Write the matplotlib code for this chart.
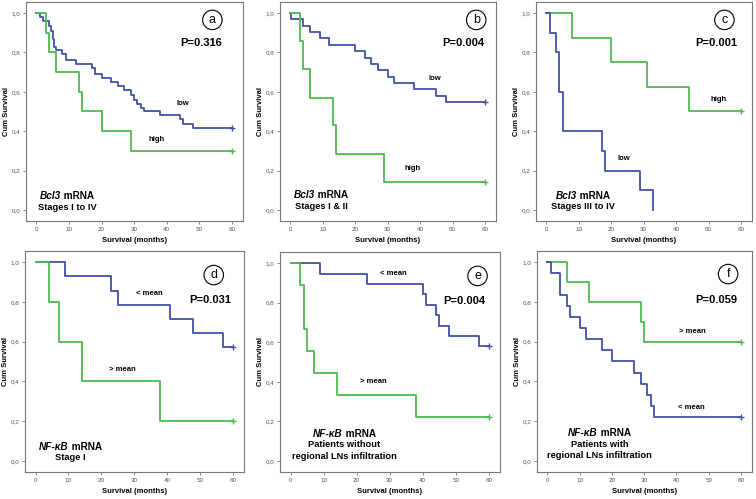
import matplotlib
matplotlib.use("Agg")
from matplotlib import pyplot as plt
from matplotlib.ticker import FuncFormatter

plt.rcParams['font.family'] = ['Liberation Sans', 'DejaVu Sans']

BLUE = "#4252a6"
GREEN = "#4dbb4f"

# survival curves: (event times, survival after each step)
a_low_t = [0, 1, 2, 4, 4.5, 5, 5.5, 6, 8, 9, 12, 17, 18, 20, 23, 25, 27, 29, 30, 31, 32, 33, 38, 44, 45, 48, 60]
a_low_s = [1.0, 0.98, 0.96, 0.935, 0.91, 0.87, 0.83, 0.81, 0.79, 0.76, 0.74, 0.72, 0.69, 0.67, 0.65, 0.63, 0.61, 0.585, 0.56, 0.54, 0.52, 0.50, 0.48, 0.46, 0.435, 0.415, 0.415]
a_high_t = [0, 3, 4, 6, 13, 14, 20, 29, 60]
a_high_s = [1.0, 0.9, 0.8, 0.7, 0.6, 0.5, 0.4, 0.3, 0.3]

b_low_t = [0, 0.3, 4, 6, 9, 12, 20, 23, 25, 27, 30, 32, 38, 45, 48, 60]
b_low_s = [1.0, 0.968, 0.935, 0.903, 0.871, 0.839, 0.806, 0.774, 0.742, 0.71, 0.677, 0.645, 0.613, 0.581, 0.548, 0.548]
b_high_t = [0, 3, 4, 6, 13, 14, 29, 60]
b_high_s = [1.0, 0.857, 0.714, 0.571, 0.429, 0.286, 0.143, 0.143]

c_high_t = [0, 8, 20, 31, 44, 60]
c_high_s = [1.0, 0.875, 0.75, 0.625, 0.5, 0.5]
c_low_t = [0, 1, 3, 4, 5, 17, 18, 29, 33]
c_low_s = [1.0, 0.9, 0.8, 0.6, 0.4, 0.3, 0.2, 0.1, 0.0]

d_low_t = [0, 9, 23, 25, 41, 48, 57, 60]
d_low_s = [1.0, 0.929, 0.857, 0.786, 0.714, 0.643, 0.571, 0.571]
d_high_t = [0, 4, 7, 14, 38, 60]
d_high_s = [1.0, 0.8, 0.6, 0.4, 0.2, 0.2]

e_low_t = [0, 9, 23, 40, 41, 44, 45, 48, 57, 60]
e_low_s = [1.0, 0.947, 0.895, 0.842, 0.789, 0.737, 0.684, 0.632, 0.579, 0.579]
e_high_t = [0, 3, 4, 5, 7, 14, 38, 60]
e_high_s = [1.0, 0.889, 0.667, 0.556, 0.444, 0.333, 0.222, 0.222]

f_high_t = [0, 6, 13, 29, 30, 60]
f_high_s = [1.0, 0.9, 0.8, 0.7, 0.6, 0.6]
f_low_t = [0, 1, 4, 6, 7, 10, 12, 17, 20, 27, 29, 31, 32, 33, 60]
f_low_s = [1.0, 0.944, 0.833, 0.778, 0.722, 0.667, 0.611, 0.556, 0.5, 0.444, 0.389, 0.333, 0.278, 0.222, 0.222]

panels = [
    # box in pixels: left, top, right, bottom; gene name is drawn italic
    dict(letter="a", box=(26, 2, 243, 221),
         curves=[(a_low_t, a_low_s, BLUE, True), (a_high_t, a_high_s, GREEN, True)],
         p="P=0.316", ppos=(50.4, 0.85), lpos=(54, 0.965),
         labels=[("low", 45, 0.54), ("high", 37, 0.36)],
         gene="Bcl3", cap=["Stages I to IV"], cx=9.5, cy=[0.054, 0.0]),
    dict(letter="b", box=(280, 2, 496, 221),
         curves=[(b_low_t, b_low_s, BLUE, True), (b_high_t, b_high_s, GREEN, True)],
         p="P=0.004", ppos=(53.2, 0.85), lpos=(57.3, 0.965),
         labels=[("low", 44.5, 0.67), ("high", 37.8, 0.21)],
         gene="Bcl3", cap=["Stages I & II"], cx=9.5, cy=[0.062, 0.007]),
    dict(letter="c", box=(536, 2, 752, 221),
         curves=[(c_high_t, c_high_s, GREEN, True), (c_low_t, c_low_s, BLUE, False)],
         p="P=0.001", ppos=(52.5, 0.85), lpos=(54.9, 0.965),
         labels=[("high", 53, 0.56), ("low", 24, 0.26)],
         gene="Bcl3", cap=["Stages III to IV"], cx=11.3, cy=[0.054, 0.005]),
    dict(letter="d", box=(25, 251, 244, 472),
         curves=[(d_low_t, d_low_s, BLUE, True), (d_high_t, d_high_s, GREEN, True)],
         p="P=0.031", ppos=(53, 0.81), lpos=(54.2, 0.935),
         labels=[("< mean", 34.5, 0.84), ("> mean", 26.4, 0.46)],
         gene="NF-κB", cap=["Stage I"], cx=10.6, cy=[0.055, 0.005]),
    dict(letter="e", box=(280, 252, 500, 472),
         curves=[(e_low_t, e_low_s, BLUE, True), (e_high_t, e_high_s, GREEN, True)],
         p="P=0.004", ppos=(52.7, 0.81), lpos=(56.6, 0.935),
         labels=[("< mean", 31, 0.945), ("> mean", 25, 0.40)],
         gene="NF-κB", cap=["Patients without", "regional LNs infiltration"],
         cx=16.3, cy=[0.12, 0.068, 0.01]),
    dict(letter="f", box=(537, 251, 752, 472),
         curves=[(f_high_t, f_high_s, GREEN, True), (f_low_t, f_low_s, BLUE, True)],
         p="P=0.059", ppos=(52.4, 0.81), lpos=(56, 0.94),
         labels=[("> mean", 44.8, 0.65), ("< mean", 44.5, 0.27)],
         gene="NF-κB", cap=["Patients with", "regional LNs infiltration"],
         cx=16.2, cy=[0.126, 0.07, 0.013]),
]

W, H = 756, 499
fig = plt.figure(figsize=(W / 100, H / 100), dpi=100)
renderer = fig.canvas.get_renderer()
CAP_FS = 6.7
GENE_FS = 7.2

for p in panels:
    l, t, r, b = p["box"]
    ax = fig.add_axes([l / W, 1 - b / H, (r - l) / W, (b - t) / H])
    for tt, ss, col, cens in p["curves"]:
        ax.step(tt, ss, where="post", color=col, lw=1.3)
        if cens:
            ax.plot(tt[-1], ss[-1], marker="+", color=col, ms=4, mew=1)
    ax.set_xlim(-3.2, 63.4)
    ax.set_ylim(-0.056, 1.056)
    ax.set_xticks(range(0, 61, 10))
    ax.set_yticks([0, 0.2, 0.4, 0.6, 0.8, 1.0])
    ax.yaxis.set_major_formatter(FuncFormatter(lambda v, pos: f"{v:.1f}".replace(".", ",")))
    ax.tick_params(labelsize=4.5, length=2.5, width=0.6, color="#777777", labelcolor="#555555", pad=1.5)
    for sp in ax.spines.values():
        sp.set_color("#777777")
        sp.set_linewidth(0.8)
    ax.set_xlabel("Survival (months)", fontsize=5.5, fontweight="bold", labelpad=4)
    ax.set_ylabel("Cum Survival", fontsize=5.5, fontweight="bold", labelpad=1.5)

    ax.text(*p["ppos"], p["p"], fontsize=8, fontweight="bold", ha="center", va="center")
    ax.text(*p["lpos"], p["letter"], fontsize=9, ha="center", va="center",
            bbox=dict(boxstyle="circle,pad=0.3", fc="white", ec="black", lw=0.8))
    for txt, x, y in p["labels"]:
        ax.text(x, y, txt, fontsize=5.5, fontweight="bold", ha="center", va="center")

    # first caption line: italic gene name + " mRNA", centred together
    g = ax.text(p["cx"], p["cy"][0], p["gene"], fontsize=GENE_FS, fontweight="bold",
                fontstyle="italic", ha="left", va="baseline")
    m = ax.text(p["cx"], p["cy"][0], " mRNA", fontsize=GENE_FS, fontweight="bold",
                ha="left", va="baseline")
    w1 = g.get_window_extent(renderer).width
    w2 = m.get_window_extent(renderer).width
    per_unit = ax.bbox.width / (63.4 + 3.2)
    x0 = p["cx"] - (w1 + w2) / 2 / per_unit
    g.set_x(x0)
    m.set_x(x0 + w1 / per_unit)
    for txt, y in zip(p["cap"], p["cy"][1:]):
        ax.text(p["cx"], y, txt, fontsize=CAP_FS, fontweight="bold", ha="center", va="baseline")

fig.savefig("out.png", dpi=100)
